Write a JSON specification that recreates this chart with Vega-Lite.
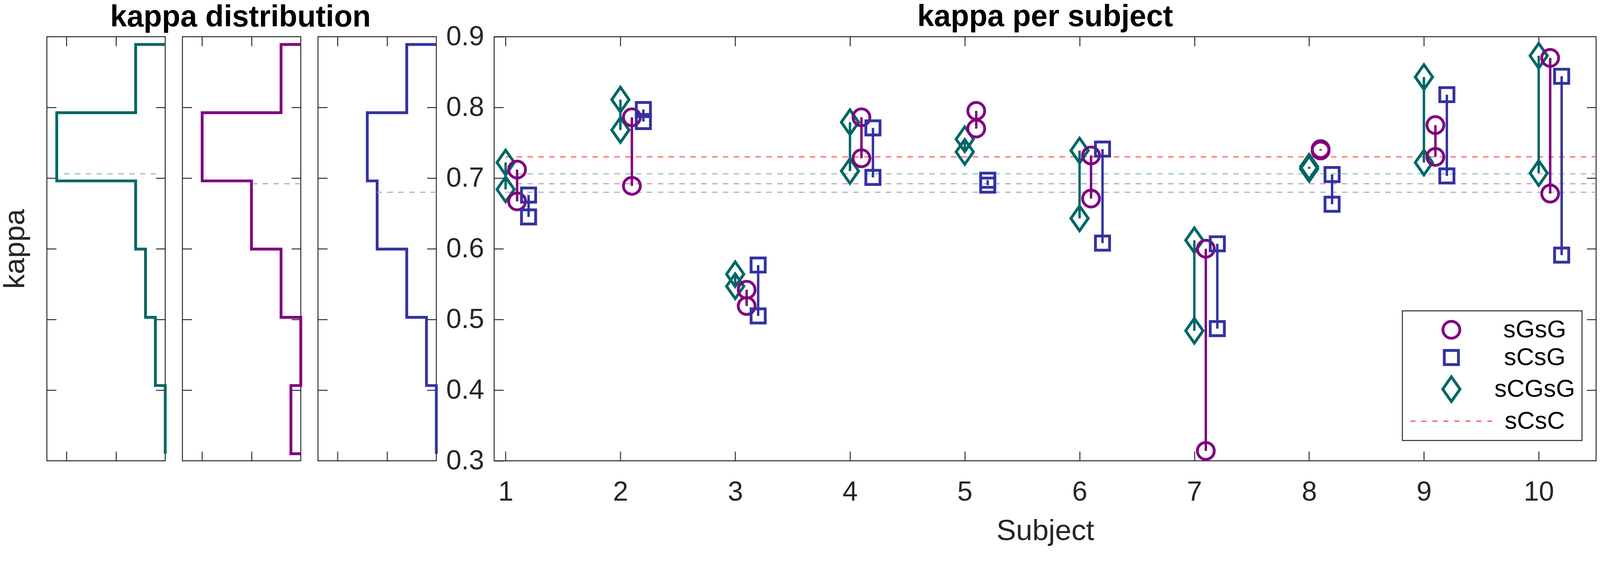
{
  "$schema": "https://vega.github.io/schema/vega-lite/v6.json",
  "background": "white",
  "padding": {"left": 0, "top": 3, "right": 16, "bottom": 10},
  "datasets": {
    "pts": [
      {"pos": 1.0, "series": "sCGsG", "kappa": 0.722}, {"pos": 1.0, "series": "sCGsG", "kappa": 0.684},
      {"pos": 1.1, "series": "sGsG", "kappa": 0.712}, {"pos": 1.1, "series": "sGsG", "kappa": 0.667},
      {"pos": 1.2, "series": "sCsG", "kappa": 0.676}, {"pos": 1.2, "series": "sCsG", "kappa": 0.645},
      {"pos": 2.0, "series": "sCGsG", "kappa": 0.811}, {"pos": 2.0, "series": "sCGsG", "kappa": 0.768},
      {"pos": 2.1, "series": "sGsG", "kappa": 0.786}, {"pos": 2.1, "series": "sGsG", "kappa": 0.689},
      {"pos": 2.2, "series": "sCsG", "kappa": 0.797}, {"pos": 2.2, "series": "sCsG", "kappa": 0.780},
      {"pos": 3.0, "series": "sCGsG", "kappa": 0.564}, {"pos": 3.0, "series": "sCGsG", "kappa": 0.547},
      {"pos": 3.1, "series": "sGsG", "kappa": 0.542}, {"pos": 3.1, "series": "sGsG", "kappa": 0.519},
      {"pos": 3.2, "series": "sCsG", "kappa": 0.577}, {"pos": 3.2, "series": "sCsG", "kappa": 0.505},
      {"pos": 4.0, "series": "sCGsG", "kappa": 0.779}, {"pos": 4.0, "series": "sCGsG", "kappa": 0.710},
      {"pos": 4.1, "series": "sGsG", "kappa": 0.786}, {"pos": 4.1, "series": "sGsG", "kappa": 0.728},
      {"pos": 4.2, "series": "sCsG", "kappa": 0.771}, {"pos": 4.2, "series": "sCsG", "kappa": 0.701},
      {"pos": 5.0, "series": "sCGsG", "kappa": 0.755}, {"pos": 5.0, "series": "sCGsG", "kappa": 0.737},
      {"pos": 5.1, "series": "sGsG", "kappa": 0.795}, {"pos": 5.1, "series": "sGsG", "kappa": 0.770},
      {"pos": 5.2, "series": "sCsG", "kappa": 0.697}, {"pos": 5.2, "series": "sCsG", "kappa": 0.690},
      {"pos": 6.0, "series": "sCGsG", "kappa": 0.739}, {"pos": 6.0, "series": "sCGsG", "kappa": 0.643},
      {"pos": 6.1, "series": "sGsG", "kappa": 0.732}, {"pos": 6.1, "series": "sGsG", "kappa": 0.671},
      {"pos": 6.2, "series": "sCsG", "kappa": 0.741}, {"pos": 6.2, "series": "sCsG", "kappa": 0.608},
      {"pos": 7.0, "series": "sCGsG", "kappa": 0.612}, {"pos": 7.0, "series": "sCGsG", "kappa": 0.484},
      {"pos": 7.1, "series": "sGsG", "kappa": 0.600}, {"pos": 7.1, "series": "sGsG", "kappa": 0.314},
      {"pos": 7.2, "series": "sCsG", "kappa": 0.607}, {"pos": 7.2, "series": "sCsG", "kappa": 0.487},
      {"pos": 8.0, "series": "sCGsG", "kappa": 0.716}, {"pos": 8.0, "series": "sCGsG", "kappa": 0.713},
      {"pos": 8.1, "series": "sGsG", "kappa": 0.741}, {"pos": 8.1, "series": "sGsG", "kappa": 0.739},
      {"pos": 8.2, "series": "sCsG", "kappa": 0.705}, {"pos": 8.2, "series": "sCsG", "kappa": 0.663},
      {"pos": 9.0, "series": "sCGsG", "kappa": 0.843}, {"pos": 9.0, "series": "sCGsG", "kappa": 0.722},
      {"pos": 9.1, "series": "sGsG", "kappa": 0.775}, {"pos": 9.1, "series": "sGsG", "kappa": 0.730},
      {"pos": 9.2, "series": "sCsG", "kappa": 0.818}, {"pos": 9.2, "series": "sCsG", "kappa": 0.703},
      {"pos": 10.0, "series": "sCGsG", "kappa": 0.873}, {"pos": 10.0, "series": "sCGsG", "kappa": 0.707},
      {"pos": 10.1, "series": "sGsG", "kappa": 0.870}, {"pos": 10.1, "series": "sGsG", "kappa": 0.678},
      {"pos": 10.2, "series": "sCsG", "kappa": 0.844}, {"pos": 10.2, "series": "sCsG", "kappa": 0.591}
    ],
    "means": [
      {"series": "sGsG", "mean": 0.692, "c1": 0, "c2": 4.9},
      {"series": "sCsG", "mean": 0.680, "c1": 0, "c2": 6},
      {"series": "sCGsG", "mean": 0.706, "c1": 0.9, "c2": 10.4},
      {"series": "sCsC", "mean": 0.730}
    ],
    "hist": [
      {"series": "sCGsG", "i": 0, "kappa": 0.31, "count": 0},
      {"series": "sCGsG", "i": 1, "kappa": 0.31, "count": 0},
      {"series": "sCGsG", "i": 2, "kappa": 0.4065, "count": 1},
      {"series": "sCGsG", "i": 3, "kappa": 0.503, "count": 2},
      {"series": "sCGsG", "i": 4, "kappa": 0.5995, "count": 3},
      {"series": "sCGsG", "i": 5, "kappa": 0.696, "count": 11},
      {"series": "sCGsG", "i": 6, "kappa": 0.7925, "count": 3},
      {"series": "sCGsG", "i": 7, "kappa": 0.889, "count": 0},
      {"series": "sGsG", "i": 0, "kappa": 0.31, "count": 0},
      {"series": "sGsG", "i": 1, "kappa": 0.31, "count": 1},
      {"series": "sGsG", "i": 2, "kappa": 0.4065, "count": 0},
      {"series": "sGsG", "i": 3, "kappa": 0.503, "count": 2},
      {"series": "sGsG", "i": 4, "kappa": 0.5995, "count": 5},
      {"series": "sGsG", "i": 5, "kappa": 0.696, "count": 10},
      {"series": "sGsG", "i": 6, "kappa": 0.7925, "count": 2},
      {"series": "sGsG", "i": 7, "kappa": 0.889, "count": 0},
      {"series": "sCsG", "i": 0, "kappa": 0.31, "count": 0},
      {"series": "sCsG", "i": 1, "kappa": 0.31, "count": 0},
      {"series": "sCsG", "i": 2, "kappa": 0.4065, "count": 1},
      {"series": "sCsG", "i": 3, "kappa": 0.503, "count": 3},
      {"series": "sCsG", "i": 4, "kappa": 0.5995, "count": 6},
      {"series": "sCsG", "i": 5, "kappa": 0.696, "count": 7},
      {"series": "sCsG", "i": 6, "kappa": 0.7925, "count": 3},
      {"series": "sCsG", "i": 7, "kappa": 0.889, "count": 0}
    ]
  },
  "spacing": 7,
  "hconcat": [
    {
      "title": {"text": "kappa distribution", "frame": "bounds", "dx": 49, "offset": 8},
      "spacing": 25,
      "hconcat": [
        {
          "width": 303, "height": 1086,
          "layer": [
            {
              "data": {"name": "hist"},
              "transform": [{"filter": "datum.series === 'sCGsG'"}],
              "mark": {"type": "line", "interpolate": "step-before", "color": "#006666", "strokeWidth": 7.2},
              "encoding": {
                "x": {"field": "count", "type": "quantitative", "scale": {"domain": [0, 12], "reverse": true, "nice": false},
                      "axis": {"orient": "bottom", "values": [5, 10], "labels": false, "title": null}},
                "y": {"field": "kappa", "type": "quantitative", "scale": {"domain": [0.3, 0.9], "nice": false, "zero": false},
                      "axis": {"orient": "left", "values": [0.4, 0.5, 0.6, 0.7, 0.8], "labels": false, "title": "kappa", "titlePadding": 41}},
                "order": {"field": "i"}
              }
            },
            {
              "data": {"name": "means"},
              "transform": [{"filter": "datum.series === 'sCGsG'"}],
              "mark": {"type": "rule", "strokeDash": [14.4, 13.4], "strokeWidth": 2.4, "color": "#80B3B3"},
              "encoding": {
                "x": {"field": "c1", "type": "quantitative", "axis": {"orient": "top", "values": [5, 10], "labels": false, "title": null}},
                "x2": {"field": "c2"},
                "y": {"field": "mean", "type": "quantitative", "axis": {"orient": "right", "values": [0.4, 0.5, 0.6, 0.7, 0.8], "labels": false, "title": null}}
              }
            }
          ],
          "resolve": {"axis": {"x": "independent", "y": "independent"}}
        },
        {
          "width": 303, "height": 1086,
          "layer": [
            {
              "data": {"name": "hist"},
              "transform": [{"filter": "datum.series === 'sGsG'"}],
              "mark": {"type": "line", "interpolate": "step-before", "color": "#800080", "strokeWidth": 7.2},
              "encoding": {
                "x": {"field": "count", "type": "quantitative", "scale": {"domain": [0, 12], "reverse": true, "nice": false},
                      "axis": {"orient": "bottom", "values": [5, 10], "labels": false, "title": null}},
                "y": {"field": "kappa", "type": "quantitative", "scale": {"domain": [0.3, 0.9], "nice": false, "zero": false},
                      "axis": {"orient": "left", "values": [0.4, 0.5, 0.6, 0.7, 0.8], "labels": false, "title": null}},
                "order": {"field": "i"}
              }
            },
            {
              "data": {"name": "means"},
              "transform": [{"filter": "datum.series === 'sGsG'"}],
              "mark": {"type": "rule", "strokeDash": [14.4, 13.4], "strokeWidth": 2.4, "color": "#C68CC6"},
              "encoding": {
                "x": {"field": "c1", "type": "quantitative", "axis": {"orient": "top", "values": [5, 10], "labels": false, "title": null}},
                "x2": {"field": "c2"},
                "y": {"field": "mean", "type": "quantitative", "axis": {"orient": "right", "values": [0.4, 0.5, 0.6, 0.7, 0.8], "labels": false, "title": null}}
              }
            }
          ],
          "resolve": {"axis": {"x": "independent", "y": "independent"}}
        },
        {
          "width": 303, "height": 1086,
          "layer": [
            {
              "data": {"name": "hist"},
              "transform": [{"filter": "datum.series === 'sCsG'"}],
              "mark": {"type": "line", "interpolate": "step-before", "color": "#3333A0", "strokeWidth": 7.2},
              "encoding": {
                "x": {"field": "count", "type": "quantitative", "scale": {"domain": [0, 12], "reverse": true, "nice": false},
                      "axis": {"orient": "bottom", "values": [5, 10], "labels": false, "title": null}},
                "y": {"field": "kappa", "type": "quantitative", "scale": {"domain": [0.3, 0.9], "nice": false, "zero": false},
                      "axis": {"orient": "left", "values": [0.4, 0.5, 0.6, 0.7, 0.8], "labels": false, "title": null}},
                "order": {"field": "i"}
              }
            },
            {
              "data": {"name": "means"},
              "transform": [{"filter": "datum.series === 'sCsG'"}],
              "mark": {"type": "rule", "strokeDash": [14.4, 13.4], "strokeWidth": 2.4, "color": "#A3A3D6"},
              "encoding": {
                "x": {"field": "c1", "type": "quantitative", "axis": {"orient": "top", "values": [5, 10], "labels": false, "title": null}},
                "x2": {"field": "c2"},
                "y": {"field": "mean", "type": "quantitative", "axis": {"orient": "right", "values": [0.4, 0.5, 0.6, 0.7, 0.8], "labels": false, "title": null}}
              }
            }
          ],
          "resolve": {"axis": {"x": "independent", "y": "independent"}}
        }
      ]
    },
    {
      "title": "kappa per subject",
      "width": 2821, "height": 1086,
      "layer": [
        {
          "data": {"name": "means"},
          "mark": {"type": "rule", "strokeDash": [14.4, 13.4], "strokeWidth": 2.4},
          "encoding": {
            "x": {"datum": 1, "type": "quantitative", "scale": {"domain": [0.9, 10.5], "nice": false, "zero": false}, "axis": null},
            "x2": {"datum": 10.5},
            "y": {"field": "mean", "type": "quantitative", "scale": {"domain": [0.3, 0.9], "nice": false, "zero": false}, "axis": null},
            "stroke": {"field": "series", "type": "nominal", "legend": null,
                       "scale": {"domain": ["sCsC", "sGsG", "sCsG", "sCGsG"], "range": ["#FF4D4D", "#C68CC6", "#A3A3D6", "#80B3B3"]}}
          }
        },
        {
          "data": {"name": "pts"},
          "mark": {"type": "rule", "strokeWidth": 6.2},
          "encoding": {
            "x": {"field": "pos", "type": "quantitative", "scale": {"domain": [0.9, 10.5], "nice": false, "zero": false},
                  "axis": {"orient": "top", "values": [1, 2, 3, 4, 5, 6, 7, 8, 9, 10], "labels": false, "title": null}},
            "y": {"aggregate": "min", "field": "kappa", "type": "quantitative", "scale": {"domain": [0.3, 0.9], "nice": false, "zero": false},
                  "axis": {"orient": "right", "values": [0.4, 0.5, 0.6, 0.7, 0.8], "labels": false, "title": null}},
            "y2": {"aggregate": "max", "field": "kappa"},
            "color": {"field": "series", "type": "nominal",
                      "scale": {"domain": ["sGsG", "sCsG", "sCGsG", "sCsC"], "range": ["#800080", "#3333A0", "#006666", "#FF4D4D"]}}
          }
        },
        {
          "data": {"name": "pts"},
          "mark": {"type": "point", "filled": false, "opacity": 1},
          "encoding": {
            "x": {"field": "pos", "type": "quantitative", "scale": {"domain": [0.9, 10.5], "nice": false, "zero": false},
                  "axis": {"orient": "bottom", "values": [1, 2, 3, 4, 5, 6, 7, 8, 9, 10], "labelPadding": 70, "title": "Subject", "titlePadding": 28}},
            "y": {"field": "kappa", "type": "quantitative", "scale": {"domain": [0.3, 0.9], "nice": false, "zero": false},
                  "axis": {"orient": "left", "values": [0.3, 0.4, 0.5, 0.6, 0.7, 0.8, 0.9], "format": ".1f", "labelPadding": 50, "title": null}},
            "color": {"field": "series", "type": "nominal",
                      "scale": {"domain": ["sGsG", "sCsG", "sCGsG", "sCsC"], "range": ["#800080", "#3333A0", "#006666", "#FF4D4D"]},
                      "legend": {"orient": "none", "legendX": 3470, "legendY": 702, "title": null, "labelFontSize": 63, "labelColor": "black",
                                 "labelAlign": "center", "labelOffset": 178, "labelLimit": 0, "symbolOffset": 73, "rowPadding": 2, "padding": 17,
                                 "strokeColor": "#262626", "fillColor": "white", "symbolFillColor": "transparent"}},
            "shape": {"field": "series", "type": "nominal",
                      "scale": {"domain": ["sGsG", "sCsG", "sCGsG", "sCsC"],
                                "range": ["circle", "square", "M0,-1L0.7,0L0,1L-0.7,0Z",
                                          "M-3.3,0H-2.906M-2.412,0H-2.018M-1.524,0H-1.13M-0.636,0H-0.242M0.252,0H0.646M1.14,0H1.534M2.028,0H2.422M2.916,0H3.31"]}},
            "size": {"field": "series", "type": "nominal",
                     "scale": {"type": "ordinal", "domain": ["sGsG", "sCsG", "sCGsG", "sCsC"], "range": [1866, 1310, 4018, 4018]}},
            "strokeWidth": {"field": "series", "type": "nominal",
                            "scale": {"type": "ordinal", "domain": ["sGsG", "sCsG", "sCGsG", "sCsC"], "range": [7.2, 7.2, 7.2, 2.9]}}
          }
        }
      ],
      "resolve": {"axis": {"x": "independent", "y": "independent"}}
    }
  ],
  "config": {
    "font": "Liberation Sans",
    "view": {"stroke": "#262626", "strokeWidth": 2.4},
    "axis": {"grid": false, "domain": false, "tickColor": "#262626", "tickWidth": 2.4, "tickSize": -24,
             "labelColor": "#262626", "labelFontSize": 70, "titleFontSize": 75, "titleColor": "#262626", "titleFontWeight": "normal"},
    "title": {"fontSize": 77, "fontWeight": "bold", "color": "black", "anchor": "middle", "frame": "group", "offset": -24},
    "legend": {"strokeWidth": 2.4}
  }
}
